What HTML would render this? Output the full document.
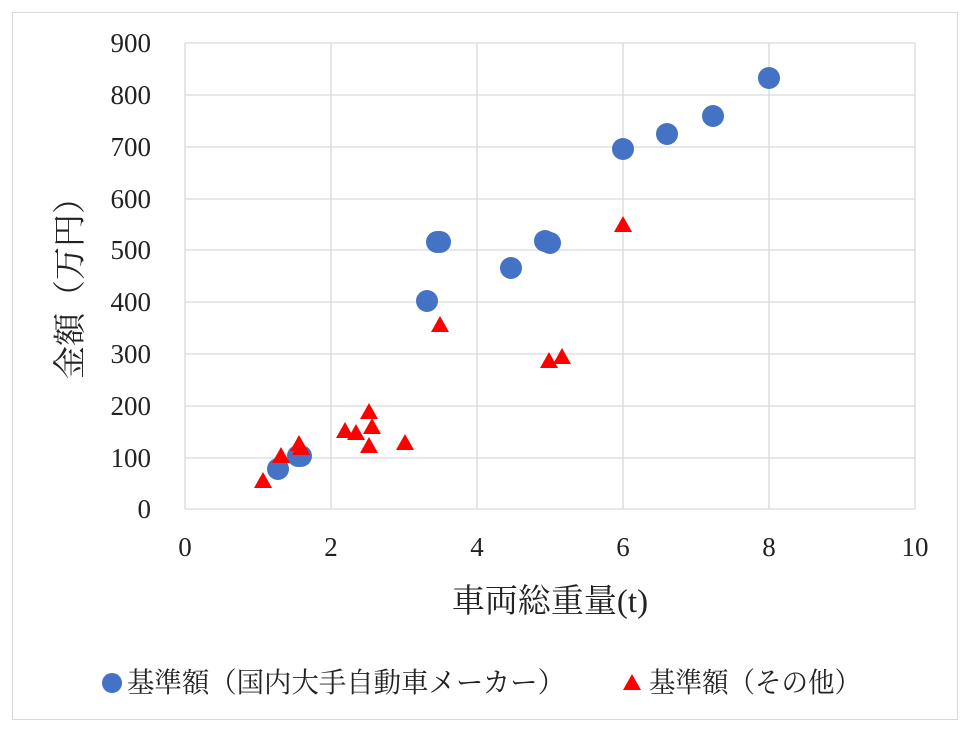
<!DOCTYPE html>
<html><head><meta charset="utf-8"><style>
body{margin:0;background:#fff;}
svg text{font-family:"Liberation Serif","Noto Serif CJK JP",serif;fill:#222;}
</style></head><body>
<svg width="970" height="731" xmlns="http://www.w3.org/2000/svg">
<rect x="12.5" y="12.5" width="945" height="707" fill="#fff" stroke="#d9d9d9"/>
<g stroke="#d9d9d9" stroke-width="1.3">
<line x1="185" y1="43" x2="915" y2="43"/><line x1="185" y1="95" x2="915" y2="95"/>
<line x1="185" y1="147" x2="915" y2="147"/><line x1="185" y1="199" x2="915" y2="199"/>
<line x1="185" y1="250" x2="915" y2="250"/><line x1="185" y1="302" x2="915" y2="302"/>
<line x1="185" y1="354" x2="915" y2="354"/><line x1="185" y1="406" x2="915" y2="406"/>
<line x1="185" y1="458" x2="915" y2="458"/><line x1="185" y1="509" x2="915" y2="509"/>
<line x1="185" y1="43" x2="185" y2="509"/><line x1="331" y1="43" x2="331" y2="509"/>
<line x1="477" y1="43" x2="477" y2="509"/><line x1="623" y1="43" x2="623" y2="509"/>
<line x1="769" y1="43" x2="769" y2="509"/><line x1="915" y1="43" x2="915" y2="509"/>
</g>
<g font-size="27" text-anchor="end">
<text x="151" y="52">900</text><text x="151" y="104">800</text><text x="151" y="156">700</text>
<text x="151" y="208">600</text><text x="151" y="259">500</text><text x="151" y="311">400</text>
<text x="151" y="363">300</text><text x="151" y="415">200</text><text x="151" y="467">100</text>
<text x="151" y="518">0</text></g>
<g font-size="27" text-anchor="middle">
<text x="185" y="556">0</text><text x="331" y="556">2</text><text x="477" y="556">4</text>
<text x="623" y="556">6</text><text x="769" y="556">8</text><text x="915" y="556">10</text></g>
<text x="550" y="612" font-size="33" text-anchor="middle">車両総重量(t)</text>
<text transform="translate(81,280) rotate(-90)" font-size="33" text-anchor="middle">金額（万円）</text>
<g fill="#4472c4">
<circle cx="278" cy="469" r="11"/><circle cx="298" cy="456" r="11"/><circle cx="301" cy="456" r="11"/>
<circle cx="427" cy="301" r="11"/><circle cx="437" cy="242" r="11"/><circle cx="440" cy="242" r="11"/>
<circle cx="511" cy="268" r="11"/><circle cx="545" cy="241" r="11"/><circle cx="550" cy="243" r="11"/>
<circle cx="623" cy="149" r="11"/><circle cx="667" cy="134" r="11"/><circle cx="713" cy="116" r="11"/>
<circle cx="769" cy="78" r="11"/></g>
<g fill="#ff0000">
<path d="M263 472l9 16h-18z"/><path d="M281 447l9 16h-18z"/><path d="M299 435l9 16h-18z"/>
<path d="M301 439l9 16h-18z"/><path d="M345 422l9 16h-18z"/><path d="M356 424l9 16h-18z"/>
<path d="M369 403l9 16h-18z"/><path d="M372 418l9 16h-18z"/><path d="M369 437l9 16h-18z"/>
<path d="M405 434l9 16h-18z"/><path d="M440 316l9 16h-18z"/><path d="M549 352l9 16h-18z"/>
<path d="M562 348l9 16h-18z"/><path d="M623 216l9 16h-18z"/>
<circle cx="112" cy="683" r="10" fill="#4472c4"/>
<path d="M632 674l9 16h-18z"/></g>
<text x="127" y="692" font-size="28" textLength="438" lengthAdjust="spacingAndGlyphs">基準額（国内大手自動車メーカー）</text>
<text x="649" y="692" font-size="28" textLength="212" lengthAdjust="spacingAndGlyphs">基準額（その他）</text>
</svg>
</body></html>
